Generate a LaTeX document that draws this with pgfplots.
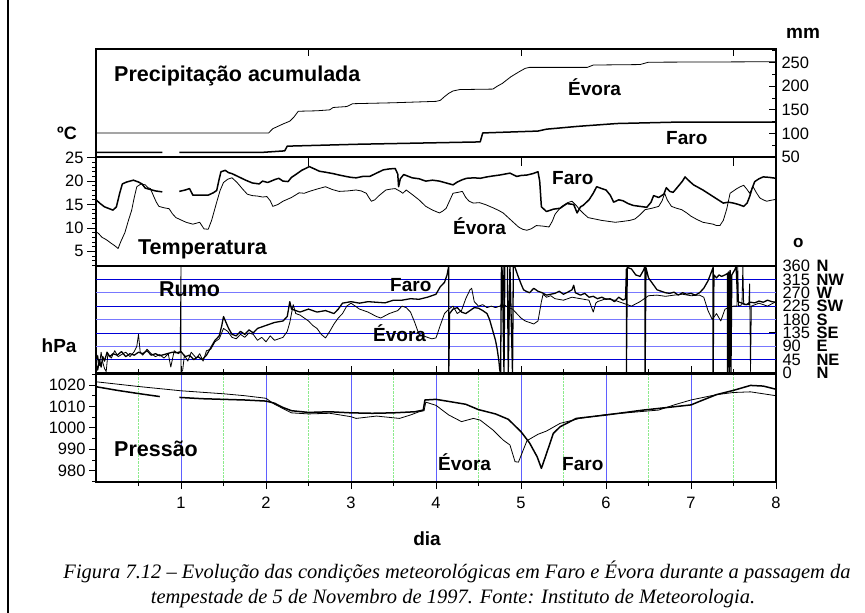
\documentclass[border=0pt]{standalone}
\usepackage{fontspec}
\setmainfont{Liberation Sans}
\newfontfamily\capfont{Liberation Serif}
\usepackage{pgfplots}
\pgfplotsset{compat=1.18}
\definecolor{gridblue}{RGB}{95,95,255}
\definecolor{gridgreen}{RGB}{140,235,140}
\definecolor{dblue}{RGB}{0,0,215}
\definecolor{lblue}{RGB}{120,120,255}
\pgfplotsset{
  panel/.style={scale only axis, width=680pt, xmin=0, xmax=8,
    axis line style={line width=1.2pt},
    every tick/.style={black, line width=0.8pt},
    major tick length=7pt, minor tick length=4pt,
    tick label style={font=\fontsize{16.5}{16.5}\selectfont},
    /pgf/number format/assume math mode=true,
    /pgf/number format/1000 sep={},
    scaled ticks=false,
    unbounded coords=jump,
    clip=true},
  faro/.style={black, line width=1.5pt, line join=round},
  evora/.style={black, line width=0.8pt, line join=round},
}
\begin{document}
\begin{tikzpicture}
\path[use as bounding box] (0pt,0pt) rectangle (865pt,-613pt);
\draw[line width=1.4pt] (8pt,0pt) -- (8pt,-613pt);

% ---------- Precipitation ----------
\begin{axis}[panel, at={(96pt,-49pt)}, anchor=north west, height=108pt,
  ymin=50, ymax=279,
  ytick={50,100,...,250}, minor ytick={75,125,...,275},
  ytick pos=right, yticklabel pos=right, tick align=inside,
  yticklabel style={anchor=west, xshift=2pt},
  xtick={2.5,5,7.5}, xtick pos=upper, xticklabels={}]
\addplot[evora] coordinates {(0,100.8) (2.03,100.8) (2.08,110) (2.2,120) (2.28,126) (2.33,135) (2.38,147) (2.6,148) (2.75,150) (2.79,155) (2.95,157) (3.02,163) (3.5,165) (4.0,168) (4.05,170) (4.1,178) (4.15,185) (4.2,190) (4.28,193) (4.67,194) (4.72,200) (4.78,206) (4.88,220) (4.98,231) (5.05,238) (5.1,240) (5.78,240) (5.85,245) (6.4,246) (6.5,251) (8,252)};
\addplot[faro] coordinates {(0,60) (0.78,60) (0.85,nan) (0.98,60) (1.97,60) (2.22,63) (2.25,73) (3.07,77) (4.52,82) (4.55,101) (5.2,105) (5.3,109) (5.67,115) (6.13,121) (6.84,124) (8,124)};
\end{axis}

% ---------- Temperature ----------
\begin{axis}[panel, at={(96pt,-157pt)}, anchor=north west, height=109pt,
  ymin=1.86, ymax=25.15,
  ytick={5,10,...,25}, minor ytick={2,...,25},
  ytick pos=left, ytick align=outside, major tick length=9pt,
  xtick={2.5,5,7.5}, xtick pos=upper, xtick align=inside, xticklabels={}]
\addplot[faro] coordinates {(0,16.0) (0.05,15.2) (0.1,14.5) (0.2,13.8) (0.24,14.5) (0.28,17.5) (0.31,19.4) (0.36,19.8) (0.44,20.2) (0.5,19.8) (0.54,19.4) (0.58,18.5) (0.62,18.3) (0.7,17.9) (0.78,17.7) (0.85,nan) (0.98,17.8) (1.05,18.1) (1.1,18.4) (1.14,17.0) (1.25,17.0) (1.32,17.0) (1.38,17.5) (1.42,18.0) (1.45,20.5) (1.47,22.0) (1.52,22.3) (1.56,21.8) (1.6,21.6) (1.68,20.9) (1.76,20.2) (1.84,19.6) (1.92,19.4) (1.96,20.0) (2.02,19.7) (2.1,20.3) (2.15,20.6) (2.2,20.0) (2.26,19.9) (2.3,20.8) (2.35,21.4) (2.42,22.3) (2.51,23.1) (2.57,22.6) (2.63,22.1) (2.7,21.9) (2.79,21.6) (2.86,21.3) (2.94,21.0) (3.0,20.8) (3.06,20.7) (3.14,21.0) (3.22,21.0) (3.3,21.7) (3.38,22.4) (3.45,22.6) (3.52,22.7) (3.55,21.5) (3.56,18.8) (3.58,20.5) (3.62,21.4) (3.72,20.7) (3.8,20.5) (3.88,20.0) (3.96,20.2) (4.04,20.0) (4.12,19.6) (4.2,19.2) (4.25,19.8) (4.31,20.3) (4.36,20.6) (4.45,20.7) (4.52,20.6) (4.6,20.9) (4.67,21.1) (4.75,21.3) (4.87,21.7) (4.95,21.0) (5.0,21.2) (5.07,21.3) (5.14,21.6) (5.2,22.0) (5.22,20.0) (5.24,14.5) (5.3,13.5) (5.38,14.0) (5.46,14.2) (5.54,15.2) (5.62,15.0) (5.66,13.2) (5.7,14.5) (5.73,14.8) (5.8,16.0) (5.85,17.4) (5.89,18.8) (5.95,18.4) (6.0,18.1) (6.05,17.0) (6.09,15.5) (6.15,16.0) (6.2,15.8) (6.26,15.2) (6.32,14.8) (6.4,14.6) (6.48,14.4) (6.53,15.5) (6.56,16.9) (6.62,16.5) (6.68,17.2) (6.71,18.6) (6.75,17.8) (6.79,17.6) (6.85,18.9) (6.9,20.0) (6.93,20.9) (6.98,20.0) (7.03,19.2) (7.08,18.7) (7.14,18.1) (7.2,17.4) (7.26,16.7) (7.32,16.0) (7.38,15.3) (7.44,15.5) (7.5,15.3) (7.56,15.0) (7.62,14.6) (7.66,15.3) (7.69,16.7) (7.72,18.5) (7.75,19.9) (7.8,20.5) (7.85,20.9) (7.92,20.8) (8.0,20.6)};
\addplot[evora] coordinates {(0,9.2) (0.03,8.8) (0.07,8.0) (0.12,7.5) (0.18,6.7) (0.22,6.2) (0.26,5.6) (0.29,7.0) (0.34,9.0) (0.38,11.5) (0.42,13.8) (0.45,16.5) (0.48,18.8) (0.53,19.4) (0.58,19.2) (0.61,18.6) (0.64,18.4) (0.68,16.7) (0.71,15.5) (0.74,14.6) (0.8,14.3) (0.86,14.1) (0.9,13.0) (0.94,12.2) (1.0,11.7) (1.06,11.2) (1.14,10.8) (1.22,11.2) (1.27,9.8) (1.32,9.7) (1.36,11.6) (1.42,15.5) (1.46,18.0) (1.5,19.7) (1.55,20.4) (1.6,20.7) (1.66,19.7) (1.72,18.4) (1.78,17.2) (1.84,16.9) (1.9,16.8) (1.96,16.6) (2.01,16.7) (2.05,15.8) (2.08,14.6) (2.14,15.0) (2.2,15.7) (2.3,16.5) (2.39,17.5) (2.45,17.4) (2.51,17.8) (2.6,18.3) (2.7,18.8) (2.78,18.2) (2.86,17.8) (2.96,17.9) (3.06,18.1) (3.12,17.9) (3.18,17.4) (3.21,16.5) (3.24,15.7) (3.28,16.0) (3.33,16.9) (3.41,18.1) (3.47,18.3) (3.52,18.4) (3.58,17.8) (3.61,17.4) (3.65,18.1) (3.73,17.0) (3.8,16.0) (3.88,14.6) (3.96,13.8) (4.04,13.2) (4.08,13.6) (4.12,14.2) (4.16,15.8) (4.2,17.4) (4.26,17.6) (4.31,17.8) (4.35,16.5) (4.39,15.7) (4.44,15.3) (4.51,15.4) (4.58,15.0) (4.67,14.3) (4.73,13.8) (4.79,13.2) (4.85,12.2) (4.91,11.2) (4.97,10.2) (5.02,9.7) (5.07,9.5) (5.12,9.8) (5.18,10.5) (5.25,10.4) (5.33,10.2) (5.37,11.5) (5.4,12.9) (5.44,13.8) (5.48,14.6) (5.55,15.4) (5.6,15.7) (5.65,14.8) (5.69,13.9) (5.74,13.0) (5.79,12.2) (5.87,11.9) (5.95,11.6) (6.03,11.4) (6.11,11.2) (6.2,11.4) (6.28,11.6) (6.34,11.9) (6.4,12.8) (6.46,13.9) (6.54,14.2) (6.62,14.6) (6.66,15.8) (6.69,17.4) (6.72,16.0) (6.77,14.6) (6.83,14.2) (6.89,13.9) (6.95,13.2) (7.0,12.5) (7.07,11.8) (7.14,11.2) (7.2,11.0) (7.26,10.8) (7.3,10.5) (7.34,10.5) (7.38,11.6) (7.42,14.0) (7.46,17.4) (7.5,17.9) (7.54,18.4) (7.58,18.8) (7.62,19.1) (7.66,18.2) (7.69,17.4) (7.73,18.8) (7.77,17.5) (7.81,16.4) (7.85,16.0) (7.89,15.7) (7.94,15.9) (8.0,16.1)};
\end{axis}

% ---------- Wind direction ----------
\begin{axis}[panel, at={(96pt,-266pt)}, anchor=north west, height=107pt,
  ymin=0, ymax=360,
  ytick={0,45,...,360},
  yticklabels={{\makebox[34pt][l]{0}\textbf{N}},{\makebox[34pt][l]{45}\textbf{NE}},{\makebox[34pt][l]{90}\textbf{E}},{\makebox[34pt][l]{135}\textbf{SE}},{\makebox[34pt][l]{180}\textbf{S}},{\makebox[34pt][l]{225}\textbf{SW}},{\makebox[34pt][l]{270}\textbf{W}},{\makebox[34pt][l]{315}\textbf{NW}},{\makebox[34pt][l]{360}\textbf{N}}},
  ytick pos=right, yticklabel pos=right, tick align=inside,
  yticklabel style={anchor=west, xshift=3pt},
  xtick={1,...,7}, minor xtick={0.5,1.5,...,7.5}, xtick pos=lower, xticklabels={}]
\draw[dblue, line width=0.7pt] (axis cs:0,45) -- (axis cs:8,45);
\draw[lblue, line width=1.1pt] (axis cs:0,90) -- (axis cs:8,90);
\draw[dblue, line width=0.7pt] (axis cs:0,135) -- (axis cs:8,135);
\draw[lblue, line width=1.1pt] (axis cs:0,180) -- (axis cs:8,180);
\draw[dblue, line width=0.7pt] (axis cs:0,225) -- (axis cs:8,225);
\draw[lblue, line width=1.1pt] (axis cs:0,270) -- (axis cs:8,270);
\draw[dblue, line width=0.7pt] (axis cs:0,315) -- (axis cs:8,315);
\addplot[faro, line width=1.3pt] coordinates {(0,30) (0.02,10) (0.04,45) (0.06,20) (0.08,55) (0.1,40) (0.13,70) (0.16,55) (0.2,65) (0.25,60) (0.3,72) (0.35,55) (0.4,65) (0.45,60) (0.5,70) (0.55,65) (0.6,75) (0.65,60) (0.7,65) (0.75,58) (0.8,62) (0.9,70) (0.95,68) (1.0,72) (1.05,55) (1.1,60) (1.15,45) (1.2,55) (1.25,45) (1.3,60) (1.35,85) (1.4,110) (1.45,125) (1.48,160) (1.5,190) (1.53,170) (1.56,150) (1.6,130) (1.65,125) (1.7,140) (1.75,130) (1.8,145) (1.85,135) (1.9,150) (2.0,160) (2.1,170) (2.2,175) (2.25,190) (2.28,240) (2.3,215) (2.35,210) (2.4,205) (2.5,215) (2.6,205) (2.7,210) (2.8,200) (2.85,215) (2.9,235) (3.0,240) (3.1,235) (3.2,240) (3.3,238) (3.4,236) (3.5,245) (3.6,245) (3.7,250) (3.8,248) (3.9,255) (4.0,265) (4.05,290) (4.1,305) (4.13,330) (4.15,360) (4.15,0) (4.16,200) (4.2,215) (4.25,220) (4.3,205) (4.35,200) (4.4,210) (4.45,220) (4.5,218) (4.55,210) (4.6,200) (4.63,180) (4.67,140) (4.7,110) (4.72,80) (4.74,40) (4.75,10) (4.76,0) (4.77,360) (4.78,340) (4.8,0) (4.81,360) (4.84,360) (4.85,0) (4.87,360) (4.9,0) (4.91,360) (4.93,355) (4.96,330) (5.0,300) (5.03,280) (5.06,275) (5.1,270) (5.15,285) (5.2,275) (5.25,270) (5.3,262) (5.4,268) (5.45,275) (5.5,265) (5.55,272) (5.6,280) (5.62,295) (5.64,270) (5.7,262) (5.75,268) (5.8,255) (5.85,258) (5.9,250) (5.95,255) (6.0,248) (6.05,250) (6.1,240) (6.15,255) (6.2,245) (6.23,250) (6.24,350) (6.24,0) (6.25,355) (6.3,350) (6.35,330) (6.4,325) (6.44,345) (6.46,360) (6.46,0) (6.47,355) (6.5,320) (6.55,300) (6.6,280) (6.65,275) (6.7,270) (6.75,268) (6.8,272) (6.85,262) (6.9,270) (6.95,265) (7.0,268) (7.05,262) (7.1,270) (7.15,285) (7.2,310) (7.24,340) (7.26,355) (7.26,0) (7.27,330) (7.3,320) (7.33,330) (7.36,325) (7.4,330) (7.43,335) (7.43,0) (7.44,340) (7.45,0) (7.46,345) (7.47,0) (7.48,330) (7.5,340) (7.52,350) (7.53,360) (7.55,240) (7.6,235) (7.65,230) (7.7,238) (7.75,236) (7.8,242) (7.85,238) (7.9,245) (7.95,240) (8.0,238)};
\addplot[evora] coordinates {(0,10) (0.02,60) (0.04,25) (0.06,70) (0.08,35) (0.1,15) (0.12,5) (0.14,65) (0.18,50) (0.22,75) (0.26,55) (0.3,62) (0.35,70) (0.4,55) (0.45,72) (0.48,90) (0.5,130) (0.52,70) (0.55,60) (0.6,80) (0.65,65) (0.7,55) (0.75,62) (0.8,50) (0.85,65) (0.88,20) (0.92,75) (0.97,65) (0.99,70) (1.0,360) (1.0,0) (1.02,10) (1.04,60) (1.08,40) (1.12,70) (1.18,50) (1.22,65) (1.26,40) (1.3,75) (1.35,80) (1.4,105) (1.45,115) (1.5,150) (1.55,140) (1.6,120) (1.65,115) (1.7,130) (1.75,120) (1.8,135) (1.85,130) (1.9,110) (1.95,120) (2.0,105) (2.05,125) (2.1,110) (2.15,115) (2.2,120) (2.25,140) (2.28,170) (2.3,200) (2.32,230) (2.35,200) (2.4,195) (2.45,185) (2.5,175) (2.55,160) (2.6,150) (2.65,130) (2.7,118) (2.75,140) (2.8,165) (2.85,185) (2.9,200) (2.95,225) (3.0,235) (3.1,215) (3.2,205) (3.3,190) (3.35,185) (3.45,200) (3.55,210) (3.6,225) (3.65,220) (3.7,205) (3.75,170) (3.8,130) (3.85,125) (3.9,120) (3.95,115) (4.0,118) (4.05,160) (4.1,200) (4.15,215) (4.2,225) (4.25,200) (4.3,210) (4.35,250) (4.4,280) (4.42,285) (4.45,240) (4.5,225) (4.55,230) (4.6,220) (4.65,225) (4.7,220) (4.75,225) (4.78,230) (4.79,360) (4.8,230) (4.85,220) (4.9,215) (4.95,200) (5.0,185) (5.05,175) (5.1,170) (5.15,165) (5.2,175) (5.24,240) (5.26,265) (5.3,255) (5.35,260) (5.4,250) (5.5,245) (5.6,255) (5.7,250) (5.8,245) (5.85,205) (5.88,235) (5.9,240) (6.0,250) (6.1,245) (6.2,235) (6.3,225) (6.4,240) (6.5,260) (6.6,262) (6.7,258) (6.8,262) (6.9,265) (7.0,260) (7.1,262) (7.15,255) (7.2,210) (7.25,180) (7.3,200) (7.35,175) (7.4,215) (7.5,225) (7.54,225) (7.55,360) (7.56,225) (7.6,230) (7.61,360) (7.62,230) (7.68,230) (7.69,300) (7.7,5) (7.71,225) (7.8,235) (7.9,225) (8.0,240)};
\end{axis}

% ---------- Pressure ----------
\begin{axis}[panel, at={(96pt,-374pt)}, anchor=north west, height=108pt,
  ymin=974.72, ymax=1025.13,
  ytick={980,990,...,1020}, minor ytick={975,985,...,1025},
  ytick pos=left, tick align=outside,
  xtick={1,...,8}, minor xtick={0.5,1.5,...,7.5}, xtick pos=lower,
  xticklabel style={anchor=north, text height=11.8pt, text depth=0pt, yshift=-4pt},
  xmajorgrids, xminorgrids,
  major grid style={gridblue, line width=0.9pt},
  minor grid style={gridgreen, densely dotted, line width=0.6pt}]
\addplot[evora] coordinates {(0,1021.5) (0.25,1020.4) (0.5,1019.3) (0.75,1018.3) (1.0,1017.3) (1.25,1016.6) (1.5,1015.9) (1.75,1015) (2.0,1013.8) (2.1,1011) (2.2,1009) (2.3,1007) (2.5,1006.5) (2.75,1006.8) (3.0,1005.2) (3.06,1004.4) (3.3,1005.5) (3.57,1004.4) (3.7,1006) (3.8,1007.5) (3.86,1008) (3.88,1012) (4.0,1010.5) (4.15,1006) (4.3,1002.9) (4.44,1004.4) (4.52,1003.6) (4.67,999) (4.79,994.3) (4.87,992) (4.93,984.2) (4.97,984) (5.0,987) (5.07,994) (5.2,997) (5.3,998.5) (5.46,1002.1) (5.69,1004.4) (6.0,1006.2) (6.62,1008.3) (6.8,1010.7) (7.0,1013) (7.3,1015.5) (7.5,1016.5) (7.7,1016.8) (8.0,1015)};
\addplot[faro] coordinates {(0,1019.2) (0.25,1017.5) (0.5,1016) (0.75,1014.6) (0.85,nan) (0.98,1014.2) (1.25,1013.6) (1.5,1013.3) (1.75,1013.0) (2.0,1012.5) (2.1,1011.5) (2.2,1009.5) (2.3,1008) (2.5,1007.2) (2.75,1007.5) (3.0,1007) (3.25,1006.8) (3.5,1007) (3.75,1007.5) (3.85,1008.3) (3.87,1013) (4.0,1013.3) (4.2,1012) (4.35,1011) (4.5,1008.5) (4.7,1006.5) (4.85,1004) (5.0,998.2) (5.1,993) (5.19,986.5) (5.24,981.1) (5.3,988) (5.38,997.4) (5.46,1000.5) (5.65,1004.4) (6.0,1006) (6.44,1008.3) (7.0,1010.7) (7.11,1012.5) (7.3,1015.5) (7.5,1017.5) (7.7,1019.8) (7.85,1019.5) (8.0,1018)};
\end{axis}

% ---------- Text ----------
\tikzset{lab/.style={anchor=base west, inner sep=0pt, font=\bfseries\fontsize{21.5}{21.5}\selectfont},
         stn/.style={anchor=base west, inner sep=0pt, font=\bfseries\fontsize{19}{19}\selectfont}}
\node[lab] at (114pt,-81pt) {Precipitação acumulada};
\node[lab] at (138pt,-254pt) {Temperatura};
\node[lab] at (159pt,-296.7pt) {Rumo};
\node[lab] at (114pt,-456.7pt) {Pressão};
\node[stn] at (568pt,-95pt) {Évora};
\node[stn] at (666pt,-144pt) {Faro};
\node[stn] at (552pt,-184pt) {Faro};
\node[stn] at (453pt,-234.7pt) {Évora};
\node[stn] at (390pt,-291.7pt) {Faro};
\node[stn] at (373pt,-341.7pt) {Évora};
\node[stn] at (438pt,-470pt) {Évora};
\node[stn] at (562pt,-470pt) {Faro};
\node[stn] at (786pt,-38pt) {mm};
\node[stn, font=\bfseries\fontsize{18}{18}\selectfont] at (57pt,-139pt) {ºC};
\node[stn] at (41.5pt,-352pt) {hPa};
\node[stn, font=\bfseries\fontsize{17}{17}\selectfont] at (793pt,-247pt) {o};
\node[anchor=base, inner sep=0pt, font=\bfseries\fontsize{19}{19}\selectfont] at (427pt,-545pt) {dia};
\node[anchor=base, inner sep=0pt, font=\capfont\itshape\fontsize{20.5}{20.5}\selectfont] at (457pt,-578pt) {Figura 7.12 – Evolução das condições meteorológicas em Faro e Évora durante a passagem da};
\node[anchor=base, inner sep=0pt, font=\capfont\itshape\fontsize{20.5}{20.5}\selectfont] at (453pt,-603pt) {tempestade de 5 de Novembro de 1997. Fonte: Instituto de Meteorologia.};
\end{tikzpicture}
\end{document}
